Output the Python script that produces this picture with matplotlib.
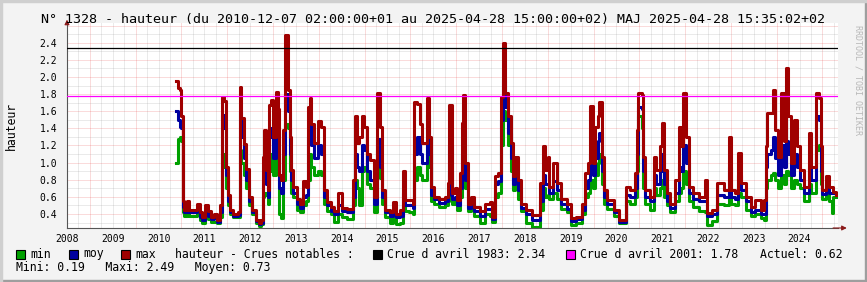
import numpy as np
import matplotlib
matplotlib.use("Agg")
import matplotlib.pyplot as plt
from matplotlib.patches import Rectangle

plt.rcParams['font.family'] = ['DejaVu Sans Mono']

# decimal years, shared by the three series (step data)
dates = [
    2010.87, 2010.92, 2010.97, 2011.00, 2011.03, 2011.06, 2011.13, 2011.17, 2011.35, 2011.40,
    2011.45, 2011.52, 2011.58, 2011.65, 2011.72, 2011.78, 2011.85, 2011.88, 2011.94, 2011.98,
    2012.02, 2012.06, 2012.12, 2012.24, 2012.27, 2012.31, 2012.36, 2012.42, 2012.47, 2012.54,
    2012.62, 2012.69, 2012.74, 2012.78, 2012.81,
    2012.85, 2012.88, 2012.91, 2012.95, 2013.00, 2013.06, 2013.10, 2013.14, 2013.18, 2013.22,
    2013.27, 2013.32, 2013.36, 2013.40, 2013.44, 2013.52, 2013.60, 2013.65, 2013.72, 2013.76,
    2013.80, 2013.84, 2013.90, 2013.98, 2014.04, 2014.12, 2014.18, 2014.26, 2014.34, 2014.43,
    2014.50, 2014.62, 2014.74, 2014.80, 2014.84,
    2014.88, 2014.94, 2014.99, 2015.05, 2015.12, 2015.20, 2015.28, 2015.33, 2015.38, 2015.45,
    2015.55, 2015.62, 2015.68, 2015.78, 2015.84, 2015.88, 2015.98, 2016.05, 2016.08, 2016.14,
    2016.20, 2016.26, 2016.36, 2016.41, 2016.46, 2016.52, 2016.62, 2016.76, 2016.82, 2016.85,
    2016.90,
    2016.97, 2017.02, 2017.09, 2017.12, 2017.15, 2017.20, 2017.26, 2017.33, 2017.40, 2017.52,
    2017.64, 2017.74, 2017.78, 2017.84, 2017.92, 2017.98, 2018.02, 2018.07, 2018.13, 2018.20,
    2018.25, 2018.29, 2018.35, 2018.42, 2018.52, 2018.65, 2018.83, 2018.90, 2018.95,
    2019.00, 2019.03, 2019.12, 2019.20, 2019.28, 2019.42, 2019.50, 2019.62, 2019.74, 2019.82,
    2019.88, 2019.93, 2019.98, 2020.04, 2020.09, 2020.13, 2020.18, 2020.23, 2020.30, 2020.45,
    2020.55, 2020.70, 2020.80, 2020.90, 2020.94, 2020.98,
    2021.05, 2021.09, 2021.13, 2021.24, 2021.32, 2021.37, 2021.46, 2021.50, 2021.54, 2021.60,
    2021.68, 2021.78, 2021.86, 2021.90, 2021.96, 2022.01, 2022.08, 2022.18, 2022.30, 2022.44,
    2022.48, 2022.58, 2022.70, 2022.85, 2022.95, 2023.00,
    2023.10, 2023.16, 2023.22, 2023.32, 2023.43, 2023.52, 2023.66, 2023.72, 2023.76, 2023.80,
    2023.88, 2023.92, 2023.96, 2024.03, 2024.10, 2024.15, 2024.20, 2024.25, 2024.31, 2024.38,
    2024.44, 2024.50, 2024.60, 2024.70, 2024.76, 2024.86, 2024.92, 2024.97, 2025.00, 2025.08,
    2025.14, 2025.20, 2025.24, 2025.30,
]

h_max = [
    1.95, 1.87, 1.85, 1.54, 0.55, 0.45, 0.55, 0.45, 0.52, 0.42,
    0.36, 0.50, 0.43, 0.37, 0.40, 0.33, 0.50, 1.76, 1.72, 0.95,
    0.62, 0.45, 0.40, 0.42, 1.88, 1.52, 1.22, 0.92, 0.60, 0.45,
    0.33, 0.29, 0.33, 1.07, 1.38,
    0.91, 0.68, 1.67, 1.73, 1.30, 1.83, 1.62, 0.85, 0.80, 1.38,
    2.49, 1.85, 1.30, 0.91, 0.72, 0.58, 0.52, 0.78, 0.72, 1.65,
    1.75, 1.45, 1.23, 1.49, 1.42, 0.68, 0.54, 0.48, 0.44, 0.64,
    0.47, 0.46, 0.80, 1.54, 1.23,
    1.30, 1.54, 1.42, 1.10, 1.03, 0.60, 1.81, 1.42, 0.68, 0.45,
    0.42, 0.54, 0.40, 0.45, 0.90, 0.56, 0.56, 0.52, 1.71, 1.68,
    1.45, 1.23, 1.75, 1.30, 0.72, 0.60, 0.58, 0.60, 0.76, 1.67,
    0.64,
    0.70, 0.56, 0.88, 1.46, 1.79, 0.99, 0.52, 0.60, 0.48, 0.43,
    0.52, 0.54, 0.37, 0.84, 0.88, 1.77, 2.40, 1.81, 1.54, 1.23,
    0.84, 1.07, 0.80, 0.52, 0.45, 0.39, 0.76, 1.19, 0.91,
    1.07, 0.72, 0.99, 0.76, 0.58, 0.52, 0.35, 0.37, 0.52, 0.88,
    0.99, 1.66, 0.99, 1.42, 1.54, 1.71, 1.07, 0.68, 0.56, 0.45,
    0.33, 0.72, 0.68, 0.88, 1.38, 1.81,
    1.79, 1.07, 0.68, 0.60, 1.07, 0.91, 1.19, 1.46, 0.91, 0.64,
    0.52, 0.80, 1.42, 1.19, 1.81, 1.30, 0.72, 0.64, 0.60, 0.80,
    0.41, 0.45, 0.76, 0.68, 1.30, 0.68,
    0.64, 1.11, 0.76, 0.60, 0.48, 0.56, 0.45, 0.56, 1.19, 1.58,
    1.58, 1.85, 1.38, 1.07, 1.81, 1.25, 2.10, 1.54, 0.99, 1.50,
    1.19, 0.91, 0.72, 1.34, 0.95, 1.81, 1.75, 1.19, 0.68, 0.84,
    0.72, 0.72, 0.66, 0.62,
]

h_moy = [
    1.60, 1.50, 1.42, 1.40, 0.48, 0.42, 0.45, 0.42, 0.45, 0.37,
    0.33, 0.42, 0.38, 0.34, 0.35, 0.31, 0.42, 1.55, 1.40, 0.85,
    0.55, 0.42, 0.38, 0.39, 1.60, 1.30, 1.05, 0.80, 0.55, 0.42,
    0.32, 0.28, 0.30, 0.80, 0.90,
    0.75, 0.60, 1.30, 1.40, 1.05, 1.55, 1.35, 0.70, 0.65, 1.10,
    1.80, 1.60, 1.10, 0.80, 0.65, 0.52, 0.47, 0.60, 0.62, 1.30,
    1.45, 1.20, 1.05, 1.20, 1.10, 0.60, 0.50, 0.44, 0.40, 0.50,
    0.43, 0.42, 0.60, 1.10, 0.95,
    0.90, 1.20, 1.15, 0.90, 0.80, 0.52, 1.27, 0.95, 0.60, 0.42,
    0.38, 0.45, 0.36, 0.38, 0.65, 0.50, 0.50, 0.47, 1.10, 1.30,
    1.10, 1.00, 1.55, 1.10, 0.62, 0.57, 0.53, 0.55, 0.62, 1.20,
    0.58,
    0.60, 0.50, 0.70, 1.10, 1.38, 0.80, 0.47, 0.53, 0.44, 0.38,
    0.46, 0.46, 0.34, 0.75, 0.78, 1.50, 1.97, 1.65, 1.35, 1.05,
    0.75, 0.90, 0.68, 0.47, 0.40, 0.33, 0.55, 0.85, 0.75,
    0.75, 0.65, 0.78, 0.68, 0.52, 0.46, 0.32, 0.34, 0.45, 0.70,
    0.80, 1.10, 0.85, 1.05, 1.25, 1.35, 0.90, 0.60, 0.52, 0.42,
    0.31, 0.62, 0.60, 0.70, 1.10, 1.65,
    1.62, 0.90, 0.60, 0.55, 0.85, 0.75, 0.90, 1.10, 0.75, 0.55,
    0.47, 0.65, 0.95, 0.90, 1.20, 1.00, 0.65, 0.58, 0.55, 0.55,
    0.38, 0.40, 0.62, 0.60, 0.95, 0.60,
    0.57, 0.85, 0.68, 0.55, 0.42, 0.45, 0.40, 0.40, 0.95, 1.10,
    1.15, 1.30, 1.05, 0.85, 1.20, 0.95, 1.25, 1.10, 0.85, 1.10,
    0.95, 0.80, 0.65, 0.95, 0.80, 1.54, 1.50, 0.90, 0.63, 0.70,
    0.65, 0.64, 0.64, 0.62,
]

h_min = [
    1.00, 1.28, 1.30, 1.25, 0.42, 0.38, 0.40, 0.38, 0.40, 0.33,
    0.30, 0.38, 0.34, 0.31, 0.31, 0.29, 0.36, 1.10, 0.95, 0.70,
    0.50, 0.40, 0.36, 0.37, 1.15, 1.00, 0.85, 0.70, 0.50, 0.40,
    0.30, 0.26, 0.28, 0.60, 0.65,
    0.62, 0.52, 0.90, 1.10, 0.85, 1.20, 1.05, 0.40, 0.35, 0.80,
    1.45, 1.40, 0.90, 0.65, 0.60, 0.45, 0.42, 0.50, 0.55, 0.80,
    1.10, 0.95, 0.85, 0.90, 0.85, 0.52, 0.44, 0.40, 0.31, 0.40,
    0.36, 0.34, 0.50, 0.80, 0.70,
    0.50, 0.90, 0.95, 0.75, 0.70, 0.42, 1.15, 0.82, 0.52, 0.36,
    0.29, 0.35, 0.28, 0.30, 0.50, 0.44, 0.42, 0.40, 0.80, 0.95,
    0.85, 0.80, 1.20, 0.95, 0.55, 0.52, 0.48, 0.50, 0.55, 0.90,
    0.52,
    0.55, 0.45, 0.60, 0.85, 0.92, 0.70, 0.44, 0.47, 0.38, 0.30,
    0.40, 0.38, 0.31, 0.60, 0.65, 1.20, 1.60, 1.50, 1.20, 0.90,
    0.68, 0.80, 0.58, 0.44, 0.29, 0.25, 0.45, 0.70, 0.60,
    0.62, 0.58, 0.65, 0.58, 0.46, 0.42, 0.27, 0.29, 0.40, 0.60,
    0.65, 0.80, 0.70, 0.85, 1.00, 1.10, 0.75, 0.52, 0.46, 0.38,
    0.29, 0.55, 0.52, 0.60, 0.90, 1.54,
    1.40, 0.70, 0.52, 0.45, 0.70, 0.62, 0.70, 0.80, 0.60, 0.50,
    0.42, 0.55, 0.65, 0.70, 0.90, 0.75, 0.55, 0.48, 0.44, 0.42,
    0.27, 0.32, 0.52, 0.50, 0.70, 0.52,
    0.50, 0.65, 0.60, 0.45, 0.38, 0.40, 0.35, 0.33, 0.70, 0.80,
    0.85, 0.88, 0.80, 0.70, 0.85, 0.75, 0.90, 0.85, 0.70, 0.80,
    0.75, 0.70, 0.55, 0.75, 0.65, 1.15, 1.20, 0.75, 0.58, 0.62,
    0.55, 0.41, 0.60, 0.60,
]

crue_1983 = 2.34
crue_2001 = 1.78
year_labels = list(range(2008, 2025))
y_labels = [0.4, 0.6, 0.8, 1.0, 1.2, 1.4, 1.6, 1.8, 2.0, 2.2, 2.4]

title = ("N° 1328 - hauteur (du 2010-12-07 02:00:00+01 au 2025-04-28 15:00:00+02) "
         "MAJ 2025-04-28 15:35:02+02")

W, H = 867, 282
fig = plt.figure(figsize=(W / 100, H / 100), dpi=100, facecolor='#f3f3f3')

# frame shading like rrdtool
fig.patches.append(Rectangle((0, 0), 1, 2 / H, transform=fig.transFigure, color='#9e9e9e', zorder=0))
fig.patches.append(Rectangle((1 - 2 / W, 0), 2 / W, 1, transform=fig.transFigure, color='#9e9e9e', zorder=0))
fig.patches.append(Rectangle((0, 1 - 2 / H), 1, 2 / H, transform=fig.transFigure, color='#cfcfcf', zorder=0))
fig.patches.append(Rectangle((0, 0), 2 / W, 1, transform=fig.transFigure, color='#cfcfcf', zorder=0))

x0, x1 = 67, 838
y0, y1 = 23, 228
ax = fig.add_axes([x0 / W, 1 - y1 / H, (x1 - x0) / W, (y1 - y0) / H])
ax.set_facecolor('white')
ax.set_xlim(2008.51, 2025.34)
ax.set_ylim(0.236, 2.63)

# grid
red_grid = (0.9, 0.2, 0.2, 0.35)
gray_grid = (0.55, 0.55, 0.55, 0.35)
for q in np.arange(2008.5, 2025.4, 0.25):
    if abs(q - round(q)) > 1e-6:
        ax.axvline(q, color=gray_grid, lw=0.72, ls=(0, (1, 1)), zorder=1)
for yr in range(2009, 2026):
    ax.axvline(yr, color=red_grid, lw=0.72, ls=(0, (1, 1)), zorder=1)
for v in np.arange(0.3, 2.65, 0.1):
    major = abs(v * 5 - round(v * 5)) < 1e-6
    ax.axhline(v, color=red_grid if major else gray_grid,
               lw=0.72, ls=(0, (1, 1)), zorder=1)

ax.step(dates, h_min, where='post', color='#00a000', lw=2.2, zorder=3)
ax.step(dates, h_moy, where='post', color='#0000a0', lw=2.2, zorder=4)
ax.step(dates, h_max, where='post', color='#a00000', lw=2.2, zorder=5)

ax.axhline(crue_1983, color='black', lw=0.9, zorder=6)
ax.axhline(crue_2001, color='#ff00ff', lw=0.9, zorder=6)

for s in ['top', 'right']:
    ax.spines[s].set_visible(False)
for s in ['left', 'bottom']:
    ax.spines[s].set_color('#555555')
    ax.spines[s].set_linewidth(0.8)

ax.set_xticks([y + 0.5 for y in year_labels])
ax.set_xticklabels([str(y) for y in year_labels])
ax.set_yticks(y_labels)
ax.set_yticklabels(['%.1f' % v for v in y_labels])
ax.tick_params(length=0, labelsize=7, colors='black', pad=4)
ax.tick_params(axis='y', pad=7)
ax.set_ylabel('hauteur', fontsize=8.3, labelpad=16)

# axis arrows
ax.annotate('', xy=(1.015, 0), xytext=(0.99, 0), xycoords='axes fraction',
            arrowprops=dict(arrowstyle='-|>', color='#8b1a1a', lw=0.8, mutation_scale=7),
            annotation_clip=False)
ax.annotate('', xy=(0, 1.03), xytext=(0, 0.98), xycoords='axes fraction',
            arrowprops=dict(arrowstyle='-|>', color='#8b1a1a', lw=0.8, mutation_scale=7),
            annotation_clip=False)

fig.text(433 / W, 1 - 19 / H, title, ha='center', va='center', fontsize=9.6)
fig.text(858 / W, 1 - 80 / H, 'RRDTOOL / TOBI OETIKER', rotation=-90, ha='center', va='center',
         fontsize=6, color='#b8b8b8')

# legend
row1 = 1 - 254 / H
row2 = 1 - 268 / H
fs = 8.3
legend = [(16, '#00a000', 'min'), (69, '#0000a0', 'moy'), (121, '#a00000', 'max'),
          (373, 'black', 'Crue d avril 1983: 2.34'), (566, '#ff00ff', 'Crue d avril 2001: 1.78')]
for px, c, txt in legend:
    fig.patches.append(Rectangle((px / W, row1 - 4.5 / H), 9 / W, 9 / H, transform=fig.transFigure,
                                 facecolor=c, edgecolor='black', lw=0.8, zorder=5))
    fig.text((px + 14) / W, row1, txt, ha='left', va='center', fontsize=fs)
fig.text(175 / W, row1, 'hauteur - Crues notables :', ha='left', va='center', fontsize=fs)
fig.text(760 / W, row1, 'Actuel: 0.62', ha='left', va='center', fontsize=fs)
fig.text(16 / W, row2, 'Mini: 0.19   Maxi: 2.49   Moyen: 0.73', ha='left', va='center', fontsize=fs)

fig.savefig('out.png', dpi=100, facecolor=fig.get_facecolor())
